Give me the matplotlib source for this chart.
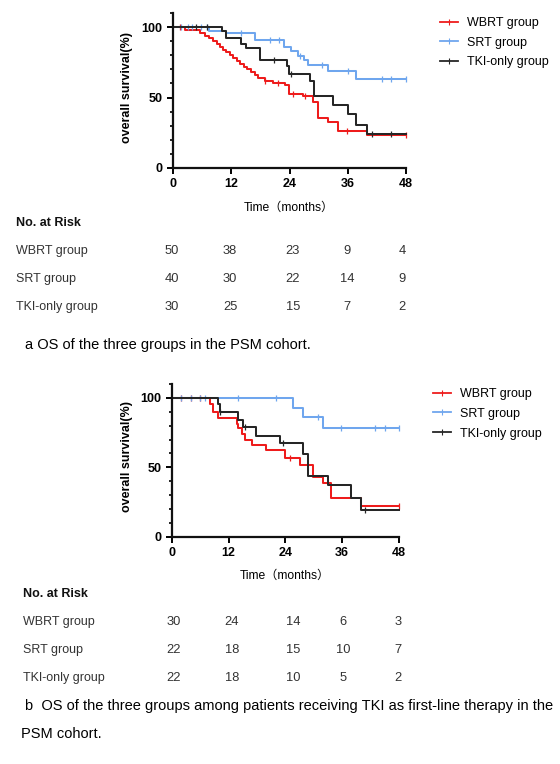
import matplotlib
matplotlib.use("Agg")
import numpy as np
import matplotlib.pyplot as plt
from matplotlib.lines import Line2D

plt.rcParams['font.family'] = ['Liberation Sans', 'Noto Sans CJK SC', 'DejaVu Sans']

groups = ["WBRT group", "SRT group", "TKI-only group"]
colors = ["#ee1c1c", "#6fa6ee", "#262626"]
risk_times = [0, 12, 24, 36, 48]

# panel a - PSM cohort
a_wbrt_t = [0, 2.5, 5.5, 6.5, 7.5, 8.3, 9.0, 9.6, 10.2, 11.0, 11.7, 12.4, 13.2, 13.9, 14.6,
            15.3, 16.0, 16.8, 17.6, 19.0, 20.5, 23.0, 23.9, 26.8, 28.9, 29.9, 32.0, 34.0, 39.9]
a_wbrt_s = [100, 98, 96, 94, 92, 90, 88, 86, 84, 82, 80, 78, 76, 74, 72,
            70, 68, 66, 64, 62, 60, 59, 52.7, 50.8, 46.8, 35.4, 33, 26, 23.5]
a_wbrt_c = [1.5, 19.0, 21.6, 24.8, 27.2, 35.8, 48]
a_srt_t = [0, 7.5, 11.0, 16.8, 22.9, 24.4, 25.8, 26.9, 27.8, 32.0, 37.8]
a_srt_s = [100, 97.5, 95.5, 90.5, 86, 83.3, 79.3, 76.5, 73.4, 68.6, 63.5]
a_srt_c = [1.7, 3.1, 4.0, 5.8, 7.0, 14.0, 19.9, 21.9, 26.1, 30.6, 36.0, 43.0, 44.9, 48]
a_tki_t = [0, 10.0, 11.0, 14.1, 15.1, 17.9, 23.4, 23.9, 28.2, 29.1, 33.0, 36.1, 37.8, 39.9]
a_tki_s = [100, 97, 92.4, 88, 85, 77, 72.5, 67, 61.5, 50.8, 44.9, 38.2, 30.6, 24]
a_tki_c = [4.7, 7.0, 20.8, 24.4, 41.0, 45.0]
a_risk = [[50, 38, 23, 9, 4], [40, 30, 22, 14, 9], [30, 25, 15, 7, 2]]

# panel b - TKI first-line subgroup
b_wbrt_t = [0, 8.1, 8.8, 9.8, 13.7, 14.1, 14.8, 15.5, 16.9, 20.0, 23.9, 27.0, 29.9, 32.0, 33.7, 40.0]
b_wbrt_s = [100, 95.6, 90, 85.5, 81, 78, 74, 70, 66, 62.2, 57, 52, 43.3, 38.5, 28, 22]
b_wbrt_c = [2.0, 4.0, 6.0, 25.0, 48]
b_srt_t = [0, 25.6, 27.8, 32.0]
b_srt_s = [100, 93, 86, 78]
b_srt_c = [2.0, 4.0, 6.0, 7.0, 14.0, 22.0, 31.0, 35.8, 42.9, 45.0, 48]
b_tki_t = [0, 9.8, 10.2, 14.0, 15.1, 17.9, 22.8, 27.8, 28.8, 33.0, 37.9, 40.0]
b_tki_s = [100, 95.6, 90, 84.3, 78.7, 72.6, 67.3, 59.3, 44, 37.5, 27.8, 19]
b_tki_c = [10.2, 15.5, 23.5, 40.8]
b_risk = [[30, 24, 14, 6, 3], [22, 18, 15, 10, 7], [22, 18, 10, 5, 2]]


def km_panel(ax, curves):
    for (t, s, c), col in zip(curves, colors):
        tt = list(t) + [48]
        ss = list(s) + [s[-1]]
        ax.step(tt, ss, where='post', color=col, lw=1.45, clip_on=False)
        cs = [ss[np.searchsorted(tt, x, side='right') - 1] for x in c]
        ax.plot(c, cs, ls='none', marker='|', ms=4.5, mew=0.9, color=col, clip_on=False)
    ax.set_xlim(0, 48)
    ax.set_ylim(0, 110)
    ax.set_xticks(risk_times)
    ax.set_yticks([0, 50, 100])
    ax.set_yticks(np.arange(0, 111, 10), minor=True)
    for sp in ['top', 'right']:
        ax.spines[sp].set_visible(False)
    for sp in ['left', 'bottom']:
        ax.spines[sp].set_linewidth(1.6)
        ax.spines[sp].set_color('#111111')
    ax.tick_params(which='major', length=4.5, width=1.4, labelsize=9, pad=3)
    ax.tick_params(which='minor', axis='y', length=2.5, width=1.2)
    for lab in ax.get_xticklabels() + ax.get_yticklabels():
        lab.set_fontweight('bold')
    ax.set_ylabel("overall survival(%)", fontsize=9, fontweight='bold')
    ax.set_xlabel("Time（months）", fontsize=8.7)


def legend(fig, x, y):
    handles = [Line2D([0], [0], color=c, lw=1.3, marker='|', ms=4, mew=0.8) for c in colors]
    fig.legend(handles, groups, loc='upper left', bbox_to_anchor=(x / 560, 1 - y / 764),
               frameon=False, fontsize=9, handlelength=1.45, handletextpad=0.7,
               labelspacing=0.62, borderpad=0, borderaxespad=0)


def risk_table(fig, y0, xlab, risk, xnums):
    fig.text(xlab / 560, 1 - y0 / 764, "No. at Risk", fontsize=9, fontweight='bold',
             va='center', color='#111111')
    rows_y = [y0 + 28, y0 + 56, y0 + 84]
    for g, r, yy in zip(groups, risk, rows_y):
        fig.text(xlab / 560, 1 - yy / 764, g, fontsize=9, va='center', color='#333333')
        for v, xx in zip(r, xnums):
            fig.text(xx / 560, 1 - yy / 764, str(v), fontsize=9.3, va='center', ha='center',
                     color='#333333')


fig = plt.figure(figsize=(5.6, 7.64), dpi=100)

ax1 = fig.add_axes([173 / 560, 1 - 168 / 764, 233 / 560, 155 / 764])
km_panel(ax1, [(a_wbrt_t, a_wbrt_s, a_wbrt_c), (a_srt_t, a_srt_s, a_srt_c), (a_tki_t, a_tki_s, a_tki_c)])
ax1.yaxis.set_label_coords(-0.172, 0.52)
ax1.xaxis.set_label_coords(0.498, -0.217)
legend(fig, 440, 17)
risk_table(fig, 223, 16, a_risk, [172, 230, 293, 347, 402])
fig.text(25 / 560, 1 - 345 / 764, "a OS of the three groups in the PSM cohort.", fontsize=10.5,
         va='center')

ax2 = fig.add_axes([171.7 / 560, 1 - 536.7 / 764, 227.3 / 560, 152.7 / 764])
km_panel(ax2, [(b_wbrt_t, b_wbrt_s, b_wbrt_c), (b_srt_t, b_srt_s, b_srt_c), (b_tki_t, b_tki_s, b_tki_c)])
ax2.yaxis.set_label_coords(-0.169, 0.524)
ax2.xaxis.set_label_coords(0.5, -0.218)
legend(fig, 433, 388)
risk_table(fig, 594, 23, b_risk, [174, 232, 293, 343, 398])
fig.text(25 / 560, 1 - 706 / 764,
         "b  OS of the three groups among patients receiving TKI as first-line therapy in the",
         fontsize=10.5, va='center')
fig.text(21 / 560, 1 - 734 / 764, "PSM cohort.", fontsize=10.5, va='center')

fig.savefig("out.png", dpi=100)
